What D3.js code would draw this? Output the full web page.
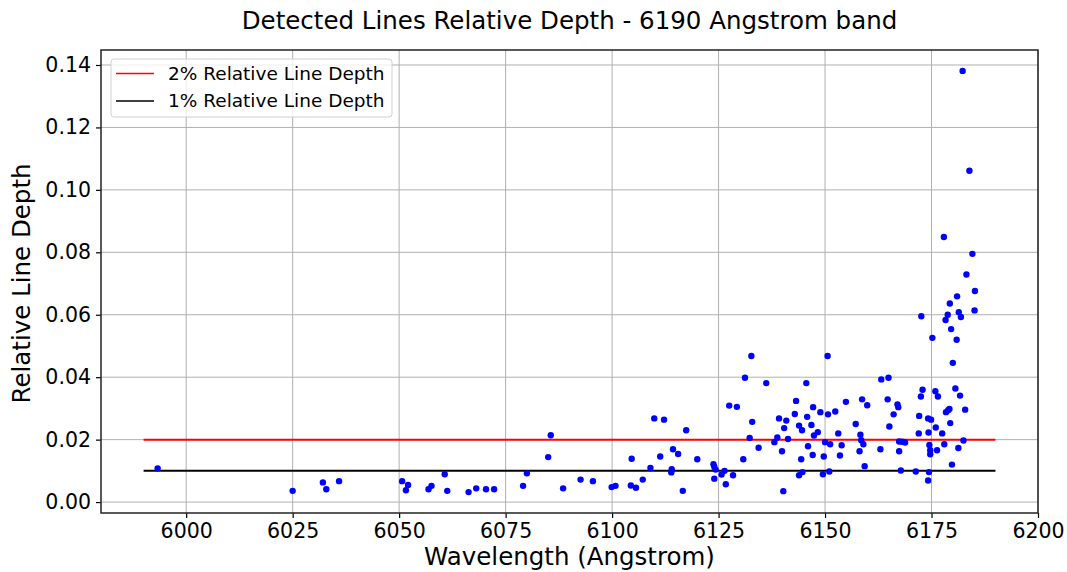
<!DOCTYPE html>
<html>
<head>
<meta charset="utf-8">
<script src="https://cdn.jsdelivr.net/npm/d3@7"></script>
<style>
  body { margin: 0; background: #fff; }
  svg { font-family: 'DejaVu Sans', sans-serif; }
</style>
</head>
<body>
<svg width="1067" height="572"></svg>
<script>
// detected lines: wavelength (Angstrom) and relative depth
const wavelength = [
  5993.3, 6025.0, 6032.1, 6032.9, 6035.9, 6050.7, 6052.1, 6051.6, 6056.9, 6057.6,
  6060.7, 6061.3, 6066.3, 6068.1, 6070.4, 6072.3, 6079.1, 6080.0, 6085.0, 6085.6,
  6088.5, 6092.6, 6095.5, 6099.9, 6100.8, 6104.4, 6105.6, 6104.6, 6107.2, 6109.0,
  6109.9, 6112.2, 6111.3, 6114.3, 6115.5, 6114.0, 6113.9, 6116.6, 6117.4, 6120.0,
  6123.8, 6124.0, 6124.3, 6124.0, 6126.4, 6125.7, 6126.7, 6128.4, 6127.5, 6129.3,
  6130.8, 6131.2, 6132.7, 6132.3, 6132.9, 6134.4, 6136.2, 6138.1, 6138.8, 6139.9,
  6140.2, 6139.2, 6140.4, 6140.9, 6141.3, 6143.2, 6142.9, 6143.9, 6144.6, 6143.9,
  6144.7, 6144.4, 6145.6, 6145.8, 6146.0, 6146.8, 6147.1, 6147.2, 6147.4, 6148.3,
  6148.9, 6149.7, 6149.5, 6150.0, 6150.6, 6150.7, 6151.0, 6151.2, 6152.4, 6153.1,
  6153.5, 6153.9, 6154.9, 6157.2, 6158.7, 6158.1, 6158.3, 6158.5, 6159.0, 6159.3,
  6159.9, 6163.0, 6163.2, 6164.9, 6164.7, 6165.1, 6166.1, 6167.0, 6167.2, 6167.4,
  6168.1, 6168.8, 6167.4, 6167.8, 6171.3, 6172.0, 6172.1, 6172.5, 6172.9, 6175.2,
  6174.2, 6174.9, 6174.3, 6174.5, 6174.7, 6174.7, 6174.4, 6174.2, 6175.9, 6176.5,
  6176.0, 6176.3, 6177.5, 6178.0, 6178.4, 6178.9, 6179.2, 6179.4, 6179.8, 6180.0,
  6180.6, 6180.9, 6181.7, 6181.3, 6182.5, 6182.9, 6182.3, 6183.9, 6177.9, 6184.6,
  6183.2, 6185.2, 6181.0, 6179.3, 6172.6, 6178.8, 6178.3, 6181.4, 6181.9, 6185.1,
  6179.6
];
const depth = [
  0.0108, 0.0036, 0.0063, 0.0041, 0.0067, 0.0067, 0.0055, 0.0038, 0.0041, 0.0052,
  0.0089, 0.0036, 0.0032, 0.0044, 0.0041, 0.0041, 0.0052, 0.0092, 0.0144, 0.0214,
  0.0044, 0.0072, 0.0067, 0.0048, 0.0052, 0.0053, 0.0046, 0.0139, 0.0072, 0.0109,
  0.0268, 0.0264, 0.0146, 0.0169, 0.0154, 0.0105, 0.0095, 0.0036, 0.0230, 0.0137,
  0.0121, 0.0113, 0.0104, 0.0075, 0.0100, 0.0088, 0.0057, 0.0086, 0.0309, 0.0305,
  0.0137, 0.0398, 0.0468, 0.0205, 0.0257, 0.0174, 0.0381, 0.0192, 0.0207, 0.0163,
  0.0035, 0.0268, 0.0237, 0.0261, 0.0202, 0.0324, 0.0282, 0.0245, 0.0230, 0.0086,
  0.0096, 0.0137, 0.0381, 0.0273, 0.0179, 0.0247, 0.0151, 0.0304, 0.0213, 0.0224,
  0.0288, 0.0146, 0.0089, 0.0192, 0.0468, 0.0281, 0.0098, 0.0185, 0.0290, 0.0220,
  0.0149, 0.0182, 0.0321, 0.0250, 0.0329, 0.0163, 0.0216, 0.0198, 0.0185, 0.0115,
  0.0310, 0.0169, 0.0393, 0.0398, 0.0329, 0.0242, 0.0281, 0.0313, 0.0304, 0.0194,
  0.0193, 0.0191, 0.0163, 0.0101, 0.0098, 0.0220, 0.0276, 0.0338, 0.0360, 0.0526,
  0.0268, 0.0264, 0.0223, 0.0183, 0.0166, 0.0153, 0.0096, 0.0069, 0.0355, 0.0338,
  0.0239, 0.0166, 0.0220, 0.0185, 0.0288, 0.0294, 0.0298, 0.0253, 0.0120, 0.0446,
  0.0364, 0.0520, 0.0341, 0.0173, 0.0197, 0.0296, 0.1381, 0.1061, 0.0849, 0.0795,
  0.0729, 0.0676, 0.0659, 0.0636, 0.0595, 0.0600, 0.0583, 0.0608, 0.0593, 0.0614,
  0.0554
];

// reference lines
const refLabels = ['2% Relative Line Depth', '1% Relative Line Depth'];
const refLevels = [0.02, 0.01];
const refColors = ['red', 'black'];
const refStart = 5990;
const refEnd = 6190;

const xTicks = [6000, 6025, 6050, 6075, 6100, 6125, 6150, 6175, 6200];
const yTicks = [0, 0.02, 0.04, 0.06, 0.08, 0.10, 0.12, 0.14];

const svg = d3.select('svg');
const margin = {left: 101, right: 1038, top: 50, bottom: 513};

const x = d3.scaleLinear().domain([5980, 6200]).range([margin.left, margin.right]);
const y = d3.scaleLinear().domain([-0.0035, 0.1448]).range([margin.bottom, margin.top]);

// grid
svg.append('g')
  .selectAll('line')
  .data(xTicks)
  .enter().append('line')
  .attr('x1', d => x(d)).attr('x2', d => x(d))
  .attr('y1', margin.top).attr('y2', margin.bottom)
  .attr('stroke', '#b0b0b0').attr('stroke-width', 1);

svg.append('g')
  .selectAll('line')
  .data(yTicks)
  .enter().append('line')
  .attr('x1', margin.left).attr('x2', margin.right)
  .attr('y1', d => y(d)).attr('y2', d => y(d))
  .attr('stroke', '#b0b0b0').attr('stroke-width', 1);

// reference lines
svg.append('g')
  .selectAll('line')
  .data(refLevels)
  .enter().append('line')
  .attr('x1', x(refStart)).attr('x2', x(refEnd))
  .attr('y1', d => y(d)).attr('y2', d => y(d))
  .attr('stroke', (d, i) => refColors[i])
  .attr('stroke-width', 2);

// points
svg.append('g')
  .selectAll('circle')
  .data(wavelength)
  .enter().append('circle')
  .attr('cx', d => x(d))
  .attr('cy', (d, i) => y(depth[i]))
  .attr('r', 3.2)
  .attr('fill', 'blue');

// axes
const xAxis = svg.append('g')
  .attr('transform', `translate(0,${margin.bottom})`)
  .call(d3.axisBottom(x).tickValues(xTicks).tickSize(5).tickPadding(5).tickFormat(d3.format('d')));
const yAxis = svg.append('g')
  .attr('transform', `translate(${margin.left},0)`)
  .call(d3.axisLeft(y).tickValues(yTicks).tickSize(5).tickPadding(5).tickFormat(d3.format('.2f')));

[xAxis, yAxis].forEach(a => {
  a.select('.domain').remove();
  a.selectAll('.tick line').attr('stroke', '#000').attr('stroke-width', 1.2);
  a.selectAll('.tick text')
    .attr('font-family', 'DejaVu Sans, sans-serif')
    .attr('font-size', 20.5).attr('fill', '#000');
});

// frame
svg.append('rect')
  .attr('x', margin.left).attr('y', margin.top)
  .attr('width', margin.right - margin.left)
  .attr('height', margin.bottom - margin.top)
  .attr('fill', 'none').attr('stroke', '#222').attr('stroke-width', 1.5);

// labels
svg.append('text')
  .attr('x', (margin.left + margin.right) / 2).attr('y', 29)
  .attr('text-anchor', 'middle')
  .attr('font-size', 24.5)
  .text('Detected Lines Relative Depth - 6190 Angstrom band');

svg.append('text')
  .attr('x', (margin.left + margin.right) / 2).attr('y', 565)
  .attr('text-anchor', 'middle')
  .attr('font-size', 24.5)
  .text('Wavelength (Angstrom)');

svg.append('text')
  .attr('transform', `translate(30,${(margin.top + margin.bottom) / 2 + 2}) rotate(-90)`)
  .attr('text-anchor', 'middle')
  .attr('font-size', 24.5)
  .text('Relative Line Depth');

// legend
const legend = svg.append('g').attr('transform', 'translate(111,59)');
legend.append('rect')
  .attr('width', 281).attr('height', 58).attr('rx', 3)
  .attr('fill', 'white').attr('fill-opacity', 0.8)
  .attr('stroke', '#d0d0d0');
const item = legend.selectAll('g.item')
  .data(refLabels)
  .enter().append('g')
  .attr('class', 'item')
  .attr('transform', (d, i) => `translate(0,${14.5 + i * 27.4})`);
item.append('line')
  .attr('x1', 5).attr('x2', 43)
  .attr('stroke', (d, i) => refColors[i]).attr('stroke-width', 1.5);
item.append('text')
  .attr('x', 57).attr('y', 6.5)
  .attr('font-size', 18.5)
  .text(d => d);
</script>
</body>
</html>
